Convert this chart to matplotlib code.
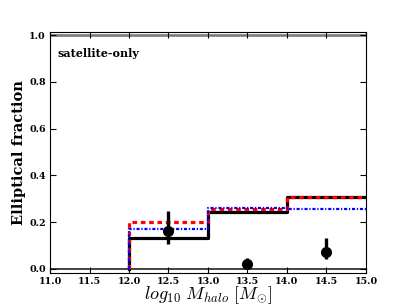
import matplotlib
matplotlib.use("Agg")
import matplotlib.pyplot as plt

edges = [12.0, 13.0, 14.0, 15.0]
frac_black = [0.131, 0.245, 0.309]
frac_red = [0.202, 0.255, 0.309]
frac_blue = [0.170, 0.259, 0.258]

obs_x = [12.5, 13.5, 14.5]
obs_y = [0.164, 0.021, 0.074]
obs_lo = [0.105, 0.009, 0.041]
obs_hi = [0.248, 0.045, 0.131]


def step_xy(values):
    xs = [edges[0]] + list(edges)
    ys = [0.0] + list(values) + [values[-1]]
    return xs, ys


def main() -> None:
    plt.rcParams["mathtext.fontset"] = "cm"
    plt.rcParams["font.family"] = "DejaVu Serif"
    plt.rcParams["lines.scale_dashes"] = False
    fig = plt.figure(figsize=(4.07, 3.05), dpi=100)
    ax = fig.add_axes([0.123, 0.105, 0.776, 0.79])

    ax.axhline(0.0, color="#222222", lw=1.2, zorder=1)
    ax.axhline(1.0, color="gray", lw=2.0, zorder=1)

    styles = [
        (frac_black, "black", (None, None), 2.3),
        (frac_red, "red", (0, (3.3, 2.7)), 2.3),
        (frac_blue, "blue", (0, (2.2, 1.3, 0.9, 1.3)), 1.6),
    ]
    for vals, col, dash, lw in styles:
        xs, ys = step_xy(vals)
        if dash[0] is None:
            ax.step(xs, ys, where="post", color=col, ls="-", lw=lw, zorder=2)
        else:
            ax.step(xs, ys, where="post", color=col, ls=dash, lw=lw, zorder=2)

    yerr = [[y - lo for y, lo in zip(obs_y, obs_lo)], [hi - y for y, hi in zip(obs_y, obs_hi)]]
    ax.errorbar(obs_x, obs_y, yerr=yerr, fmt="o", color="black", ms=7, elinewidth=2.4,
                capsize=0, zorder=3)

    ax.text(11.1, 0.92, "satellite-only", fontsize=8, fontweight="bold", va="center")

    ax.set_xlim(11.0, 15.0)
    ax.set_ylim(-0.017, 1.013)
    ax.set_xticks([11.0 + 0.5 * i for i in range(9)])
    ax.set_yticks([0.2 * i for i in range(6)])
    ax.set_xticklabels(["%.1f" % (11.0 + 0.5 * i) for i in range(9)], fontsize=6.8, fontweight="bold")
    ax.set_yticklabels(["%.1f" % (0.2 * i) for i in range(6)], fontsize=6.8, fontweight="bold")
    ax.tick_params(direction="in", top=True, right=True, length=4, width=0.8, pad=3)
    for sp in ax.spines.values():
        sp.set_linewidth(0.8)

    ax.set_xlabel(r"$log_{10}\ M_{halo}\ [M_{\odot}]$", fontsize=13, labelpad=-1)
    ax.set_ylabel("Elliptical fraction", fontsize=10.5, fontweight="bold", labelpad=2)

    fig.savefig("out.png", dpi=100)


if __name__ == '__main__':
    main()
